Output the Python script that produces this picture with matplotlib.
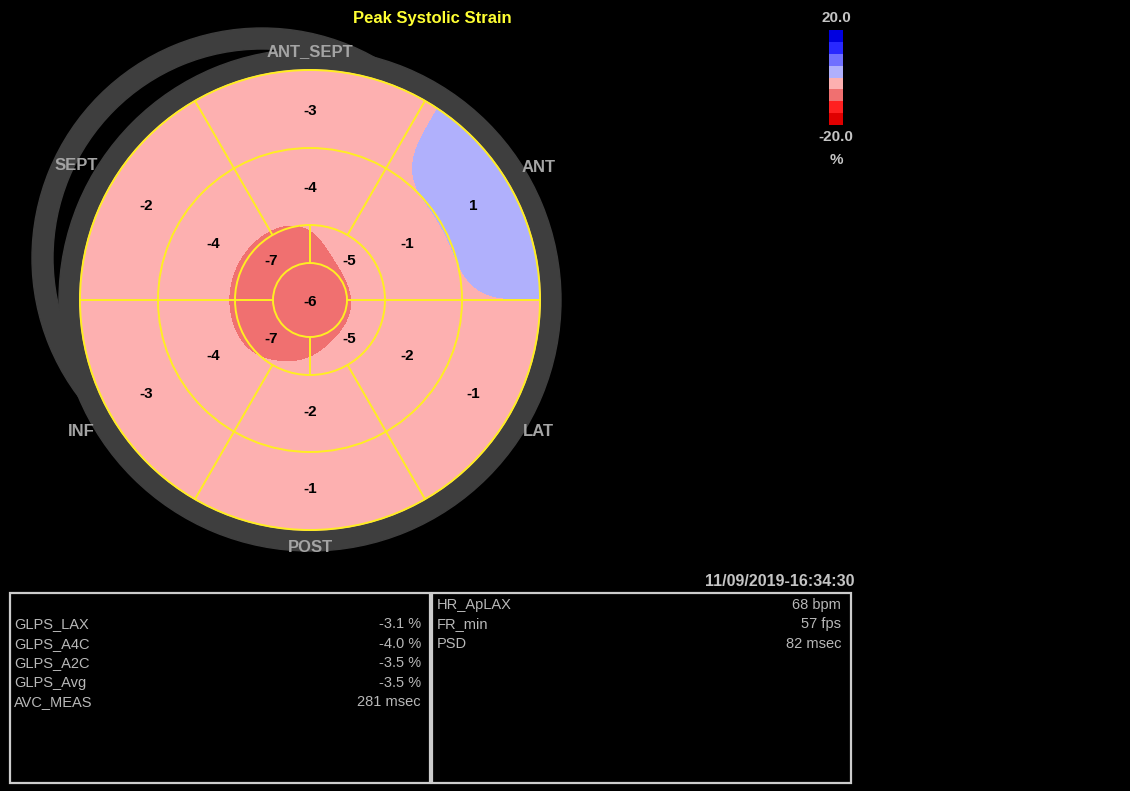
import numpy as np
import matplotlib
matplotlib.use("Agg")
import matplotlib.pyplot as plt
from matplotlib.colors import ListedColormap, BoundaryNorm
from matplotlib.cm import ScalarMappable
from matplotlib.patches import Circle, Wedge, Rectangle

plt.rcParams['font.family'] = ['Liberation Sans', 'DejaVu Sans']

# ---- data: peak systolic strain per segment (%) ----
wall_names = ["ANT_SEPT", "ANT", "LAT", "POST", "INF", "SEPT"]
basal_strain = [-3, 1, -1, -1, -3, -2]
mid_strain = [-4, -1, -2, -2, -4, -4]
apical_strain = [-5, -5, -7, -7]          # upper-right, lower-right, lower-left, upper-left
apex_strain = -6

scale_levels = [-20, -15, -10, -5, 0, 5, 10, 15, 20]
scale_colors = ['#E00000', '#FF2020', '#F07070', '#FDB0B0',
                '#B0B0FC', '#7070FF', '#2828FF', '#0000E0']

global_rows = ["GLPS_LAX", "GLPS_A4C", "GLPS_A2C", "GLPS_Avg", "AVC_MEAS"]
global_vals = ["-3.1 %", "-4.0 %", "-3.5 %", "-3.5 %", "281 msec"]
acq_rows = ["HR_ApLAX", "FR_min", "PSD"]
acq_vals = ["68 bpm", "57 fps", "82 msec"]
timestamp = "11/09/2019-16:34:30"

# ---- geometry (pixels) ----
W, H = 1130, 791
cx, cy = 310.0, 300.0
r_apex, r_apical, r_mid, r_base = 37.0, 75.0, 152.0, 230.0
six_centres = np.array([90, 30, -30, -90, -150, 150])
four_centres = np.array([45, -45, -135, 135])

fig = plt.figure(figsize=(W / 100, H / 100), dpi=100)
fig.patch.set_facecolor('black')
ax = fig.add_axes([0, 0, 1, 1])
ax.set_xlim(0, W)
ax.set_ylim(H, 0)
ax.set_aspect('equal')
ax.axis('off')
ax.set_facecolor('black')

grey = '#3E3E3E'
# outer frame rings
ax.add_patch(Wedge((262, 258), 230, 0, 360, width=21, color=grey, zorder=1))
ax.add_patch(Wedge((cx, cy), 251, 0, 360, width=22, color=grey, zorder=2))
ax.add_patch(Circle((cx, cy), r_base, color=scale_colors[3], zorder=2.5))

# ---- smoothed strain field from the segment values ----
step = 2.0
xs = np.arange(cx - 260, cx + 261, step)
ys = np.arange(cy - 260, cy + 261, step)
X, Y = np.meshgrid(xs, ys)
R = np.hypot(X - cx, Y - cy)
ang = np.degrees(np.arctan2(cy - Y, X - cx))
idx6 = np.mod(np.round((90 - ang) / 60).astype(int), 6)
idx4 = np.mod(np.floor((90 - ang) / 90).astype(int), 4)
field = np.where(R < r_apex, apex_strain,
         np.where(R < r_apical, np.array(apical_strain)[idx4],
          np.where(R < r_mid, np.array(mid_strain)[idx6],
                   np.array(basal_strain)[idx6]))).astype(float)


def gaussian_blur(a, sigma):
    rad = int(3 * sigma)
    k = np.exp(-0.5 * (np.arange(-rad, rad + 1) / sigma) ** 2)
    k /= k.sum()
    p = np.pad(a, rad, mode='edge')
    tmp = np.apply_along_axis(lambda v: np.convolve(v, k, mode='valid'), 1, p)
    return np.apply_along_axis(lambda v: np.convolve(v, k, mode='valid'), 0, tmp)


smooth = gaussian_blur(field, 22.0 / step)

cmap = ListedColormap(scale_colors)
norm = BoundaryNorm(scale_levels, cmap.N)
cs = ax.contourf(X, Y, smooth, levels=scale_levels, cmap=cmap, norm=norm, zorder=3)
clip = Circle((cx, cy), r_base, transform=ax.transData)
cs.set_clip_path(clip)

# ---- segment grid ----
yel = '#FFEE22'
for rr in (r_base, r_mid, r_apical, r_apex):
    ax.add_patch(Circle((cx, cy), rr, fill=False, ec=yel, lw=1.4, zorder=4))


def spoke(a_deg, r0, r1):
    t = np.radians(a_deg)
    ax.plot([cx + r0 * np.cos(t), cx + r1 * np.cos(t)],
            [cy - r0 * np.sin(t), cy - r1 * np.sin(t)],
            color=yel, lw=1.4, zorder=4, solid_capstyle='butt')


for a in (0, 180):
    spoke(a, r_apex, r_base)
for a in (60, 120, -60, -120):
    spoke(a, r_apical, r_base)
for a in (90, -90):
    spoke(a, r_apex, r_apical)

# ---- segment values ----
lbl = dict(ha='center', va='center', fontsize=11, fontweight='bold', color='black', zorder=6)
for a, v in zip(six_centres, basal_strain):
    t = np.radians(a)
    ax.text(cx + 189 * np.cos(t), cy - 189 * np.sin(t), f"{v}", **lbl)
for a, v in zip(six_centres, mid_strain):
    t = np.radians(a)
    ax.text(cx + 112 * np.cos(t), cy - 112 * np.sin(t), f"{v}", **lbl)
for a, v in zip(four_centres, apical_strain):
    t = np.radians(a)
    ax.text(cx + 55 * np.cos(t), cy - 55 * np.sin(t), f"{v}", **lbl)
ax.text(cx, cy + 2, f"{apex_strain}", **lbl)

# ---- wall names ----
wall_r = [248, 264, 264, 248, 264, 270]
for a, name, rr in zip(six_centres, wall_names, wall_r):
    t = np.radians(a)
    ax.text(cx + rr * np.cos(t), cy - rr * np.sin(t), name, ha='center', va='center',
            fontsize=12, fontweight='bold', color='#A4A4A4', zorder=6)

ax.text(432, 18, "Peak Systolic Strain", ha='center', va='center', fontsize=12,
        fontweight='bold', color='#FFFF33')

# ---- colour scale ----
cax = fig.add_axes([829 / W, 1 - 125 / H, 14 / W, 95 / H])
cb = fig.colorbar(ScalarMappable(norm=norm, cmap=cmap), cax=cax)
cb.outline.set_visible(False)
cb.set_ticks([])
cb.ax.tick_params(length=0)
scale_txt = dict(ha='center', va='center', fontsize=11, fontweight='bold', color='#C4C4C4')
ax.text(836, 18, f"{scale_levels[-1]:.1f}", **scale_txt)
ax.text(836, 137, f"{scale_levels[0]:.1f}", **scale_txt)
ax.text(836, 160, "%", **scale_txt)

# ---- measurement panels ----
ax.text(854, 582, timestamp, ha='right', va='center', fontsize=11.5,
        fontweight='bold', color='#C4C4C4')
box = dict(fill=False, ec='#CCCCCC', lw=1.6, zorder=5)
ax.add_patch(Rectangle((10, 593), 420, 190, **box))
ax.add_patch(Rectangle((432, 593), 419, 190, **box))
row0, dy = 605, 19.4
tbl = dict(va='center', fontsize=10.5, color='#B8B8B8')
for i, (n, v) in enumerate(zip(global_rows, global_vals)):
    y = row0 + dy * (i + 1)
    ax.text(14, y, n, ha='left', **tbl)
    ax.text(421, y, v, ha='right', **tbl)
for i, (n, v) in enumerate(zip(acq_rows, acq_vals)):
    y = row0 + dy * i
    ax.text(437, y, n, ha='left', **tbl)
    ax.text(841, y, v, ha='right', **tbl)

fig.savefig("out.png", dpi=100, facecolor='black')
